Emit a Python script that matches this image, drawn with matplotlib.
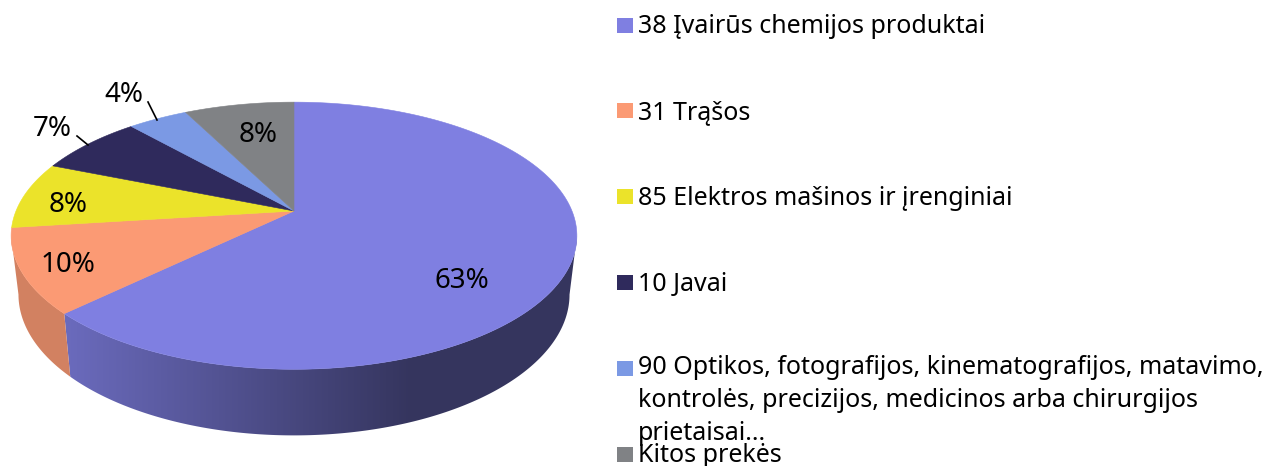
import numpy as np
import matplotlib
matplotlib.use("Agg")
import matplotlib.pyplot as plt
from matplotlib.patches import Polygon, Rectangle
from matplotlib.colors import to_rgb

categories = ["38 Įvairūs chemijos produktai", "31 Trąšos", "85 Elektros mašinos ir įrenginiai",
              "10 Javai",
              "90 Optikos, fotografijos, kinematografijos, matavimo,\nkontrolės, precizijos, medicinos arba chirurgijos\nprietaisai...",
              "Kitos prekės"]
values = [62.8, 10.2, 8.1, 7.3, 4.1, 7.5]
labels = ["63%", "10%", "8%", "7%", "4%", "8%"]
colors = ["#7F7FE1", "#FB9A74", "#EBE32A", "#2F2A5C", "#7B99E4", "#808285"]
swatch_y = [25, 110, 196, 282, 368.5, 454.5]
text_base = [33, 119, 205, 291, 440, 462]

W, H = 1267, 466
fig = plt.figure(figsize=(W/100, H/100), dpi=100)
ax = fig.add_axes([0, 0, 1, 1])
ax.set_xlim(0, W); ax.set_ylim(H, 0); ax.axis("off")

CX, CY, R, A, P = 294, 211, 278, 129, 0.185
SX, SY, DY = 0.974, 1.055, 57.4

def proj(theta):
    x, y = np.sin(theta), np.cos(theta)
    w = 1 + P*y
    return CX + R*x/w, CY - A*y/w

def proj_bottom(theta):
    u, v = proj(theta)
    return CX + SX*(u - CX), CY + DY + SY*(v - CY)

edges = np.cumsum([0] + values)/sum(values)*2*np.pi
VIS0, VIS1 = np.radians(100.7), np.radians(259.3)

# side walls: a horizontal gradient clipped to each visible wall
grad_x = np.linspace(0, 600, 601)
t = np.clip((grad_x - 66)/(410 - 66), 0, 1)
factor = 0.84 - 0.42*t
for i in range(len(values)):
    a, b = max(edges[i], VIS0), min(edges[i+1], VIS1)
    if b <= a:
        continue
    ts = np.linspace(a, b, 200)
    top = np.column_stack(proj(ts))
    bot = np.column_stack(proj_bottom(ts))[::-1]
    wall = Polygon(np.vstack([top, bot]), closed=True, fc="none", ec="none", transform=ax.transData)
    ax.add_patch(wall)
    rgb = np.outer(factor, np.array(to_rgb(colors[i])))[None, :, :]
    im = ax.imshow(rgb, extent=(0, 600, H, 0), aspect="auto", zorder=2, interpolation="bilinear")
    im.set_clip_path(wall)
ax.set_xlim(0, W); ax.set_ylim(H, 0)

# top faces
for i in range(len(values)):
    ts = np.linspace(edges[i], edges[i+1], 200)
    us, vs = proj(ts)
    pts = np.vstack([[CX, CY], np.column_stack([us, vs])])
    ax.add_patch(Polygon(pts, closed=True, fc=colors[i], ec=colors[i], lw=0.4, zorder=3))

# data labels
LFS = 20
FS = 18
FONT = "Noto Sans"
lab_pos = [(462, 280.5), (68, 265.5), (68, 204.5), (52, 129.5), (124, 95.5), (258, 134.5)]
for s, (x, y) in zip(labels, lab_pos):
    ax.text(x, y, s, ha="center", va="center", fontsize=LFS, color="black",
            family=FONT, zorder=5)
# leader lines
ax.plot([77, 88], [136, 145], color="black", lw=1.2, zorder=5)
ax.plot([148, 157], [102, 120], color="black", lw=1.2, zorder=5)

# legend
for name, col, ys, yb in zip(categories, colors, swatch_y, text_base):
    ax.add_patch(Rectangle((617, ys-7.5), 15.5, 15, fc=col, ec="none", zorder=5))
    ax.text(638, yb, name, ha="left", va="baseline", fontsize=FS, family=FONT,
            color="black", linespacing=1.41, zorder=6)

fig.savefig("out.png", dpi=100)
